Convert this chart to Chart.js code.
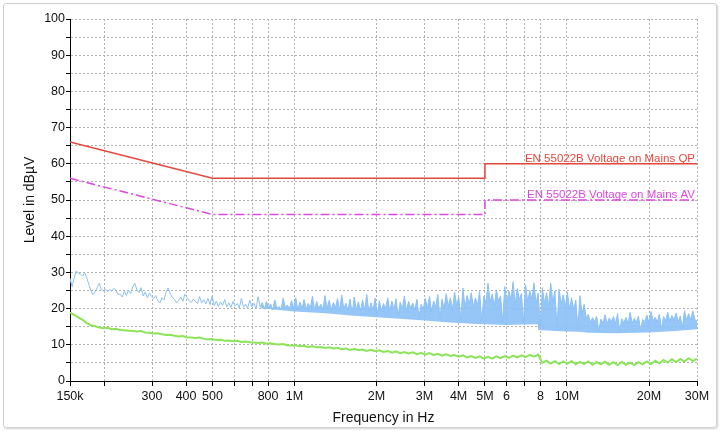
<!DOCTYPE html>
<html>
<head>
<meta charset="utf-8">
<script src="https://cdn.jsdelivr.net/npm/chart.js@4.4.1/dist/chart.umd.min.js"></script>
<style>
  html, body { margin: 0; padding: 0; background: #fff; }
  #wrap { position: relative; width: 724px; height: 431px; }
  #frame {
    position: absolute; left: 3px; top: 3px; width: 712px; height: 423px;
    border: 1px solid #d0d0d0; border-radius: 3px;
    box-shadow: 1px 1px 2px rgba(0,0,0,0.18);
  }
  #emc { position: absolute; left: 0; top: 0; }
</style>
</head>
<body>
<div id="wrap">
  <div id="frame"></div>
  <canvas id="emc" width="724" height="431"></canvas>
</div>
<script>
// limit lines (frequency in MHz, level in dBµV)
const limitFreqs = [0.15, 0.5, 5, 5, 30];
const qpLimit = [66, 56, 56, 60, 60];
const avLimit = [56, 46, 46, 50, 50];
const qpName = 'EN 55022B Voltage on Mains QP';
const avName = 'EN 55022B Voltage on Mains AV';

// receiver sweep, 150 kHz .. 30 MHz, log stepped
const sweepStart = 0.15;
const sweepStop = 30;

// peak trace (blue)
const peakLevels = [
  28.4, 26.0, 28.5, 30.4, 29.8, 29.5, 29.0, 29.9, 28.5, 26.7,
  25.0, 23.8, 24.6, 25.8, 27.0, 25.2, 24.9, 25.4, 24.7, 25.3,
  24.8, 25.6, 25.0, 23.9, 24.0, 23.2, 24.8, 23.6, 25.1, 24.2,
  26.0, 27.0, 25.2, 24.4, 25.8, 23.5, 24.6, 23.0, 24.3, 23.4,
  22.8, 23.6, 22.2, 21.5, 23.0, 22.4, 24.6, 25.7, 24.0, 23.1,
  22.5, 21.6, 22.3, 23.2, 22.0, 24.0, 23.1, 22.2, 21.7, 22.6,
  22.0, 21.4, 23.3, 21.6, 22.5, 21.3, 22.8, 21.1, 23.4, 20.8,
  22.1, 20.6, 21.8, 20.9, 22.5, 20.5, 21.6, 20.3, 22.0, 20.7,
  21.4, 20.2, 22.8, 20.4, 21.2, 20.1, 22.3, 20.5, 21.5, 19.9,
  23.3, 20.4, 21.7, 19.8, 22.0, 20.2, 21.3, 19.7, 22.4, 20.0,
  20.6, 19.8, 22.9, 20.3, 21.0, 19.9, 22.2, 20.1, 23.0, 19.6,
  21.8, 20.0, 22.5, 19.9, 21.4, 20.2, 23.4, 19.5, 22.0, 20.1,
  21.2, 19.8, 23.6, 20.0, 22.3, 19.6, 21.7, 20.2, 22.8, 19.4,
  23.8, 19.9, 21.5, 19.5, 22.6, 18.6, 23.2, 19.7, 21.9, 19.3,
  22.4, 19.6, 23.9, 19.1, 21.6, 19.5, 22.9, 18.2, 22.2, 19.4,
  21.4, 20.0, 23.0, 19.3, 22.1, 19.8, 22.7, 18.0, 21.8, 19.9,
  23.5, 19.4, 22.0, 20.2, 21.5, 19.6, 22.6, 17.6, 21.2, 19.8,
  22.8, 20.1, 23.4, 19.2, 22.1, 20.4, 23.9, 17.2, 22.6, 20.0,
  24.1, 20.6, 23.0, 19.7, 24.6, 20.9, 23.2, 16.8, 25.7, 20.3,
  23.6, 21.2, 24.4, 20.5, 22.9, 21.0, 24.8, 16.4, 23.4, 21.5,
  27.0, 21.8, 24.0, 20.7, 25.2, 22.0, 23.5, 16.2, 26.1, 21.6,
  24.9, 22.3, 27.4, 21.2, 25.5, 22.5, 24.2, 16.0, 26.6, 21.9,
  25.0, 22.6, 27.1, 21.4, 24.3, 14.8, 25.8, 21.5, 24.4, 20.9,
  27.0, 21.8, 24.9, 14.5, 25.4, 21.2, 23.8, 20.4, 24.6, 19.8,
  23.0, 19.6, 22.4, 14.4, 23.6, 18.6, 21.2, 17.4, 18.4, 16.2,
  17.5, 16.4, 17.9, 13.8, 17.1, 16.0, 18.3, 15.8, 17.4, 16.3,
  17.8, 15.9, 18.6, 13.7, 17.2, 16.1, 17.6, 15.7, 19.0, 16.0,
  17.3, 16.2, 17.9, 13.9, 17.0, 16.4, 18.2, 16.1, 19.2, 16.6,
  17.6, 16.3, 18.5, 14.2, 17.8, 16.7, 19.0, 16.4, 18.1, 16.9,
  18.7, 16.5, 17.9, 14.6, 19.4, 16.8, 18.6, 16.9, 19.3, 17.0,
  16.5
];

// lower edge of the dense peak band (blue)
const floorFreqs = [0.75, 1, 1.3, 1.6, 2, 2.5, 3, 3.5, 4, 4.5, 5, 6, 7, 7.8, 7.85, 9, 10, 11, 12, 15, 20, 25, 30];
const floorLevels = [20.1, 19.2, 18.7, 18.1, 17.6, 17.1, 16.7, 16.3, 16.0, 15.8, 15.7, 15.5, 15.6, 15.7, 14.1, 13.8, 13.7, 13.6, 13.3, 13.2, 13.4, 13.8, 14.3];

// average trace (green)
const avgLevels = [
  18.9, 18.3, 17.6, 16.9, 16.0, 15.4, 15.1, 14.8, 14.6, 14.7,
  14.3, 14.4, 14.1, 14.0, 13.9, 13.8, 13.7, 13.8, 13.4, 13.3,
  13.1, 13.2, 12.9, 12.7, 12.8, 12.5, 12.3, 12.4, 12.1, 12.0,
  11.9, 12.0, 11.7, 11.5, 11.6, 11.3, 11.4, 11.1, 11.2, 11.0,
  11.1, 10.8, 10.9, 10.7, 10.6, 10.5, 10.6, 10.3, 10.4, 10.2,
  10.1, 10.2, 9.9, 9.8, 9.9, 9.6, 9.7, 9.4, 9.6, 9.3,
  9.4, 9.1, 9.3, 9.0, 9.2, 8.8, 9.0, 8.6, 8.9, 8.5,
  8.7, 8.3, 8.6, 8.2, 8.5, 8.0, 8.3, 7.8, 8.2, 7.7,
  8.0, 7.6, 7.9, 7.4, 7.8, 7.3, 7.7, 7.2, 7.5, 7.0,
  7.4, 6.9, 7.2, 6.7, 7.1, 6.5, 6.9, 6.4, 6.8, 6.2,
  6.7, 6.2, 6.8, 6.3, 6.9, 6.4, 7.0, 6.5, 7.1, 6.6,
  7.2, 6.7, 7.3, 5.0, 5.6, 4.8, 5.5, 4.7, 5.4, 4.8,
  5.5, 4.6, 5.3, 4.7, 5.4, 4.5, 5.2, 4.6, 5.3, 4.5,
  5.2, 4.4, 5.3, 4.5, 5.1, 4.4, 5.2, 4.6, 5.4, 4.7,
  5.6, 4.9, 5.8, 5.1, 6.0, 5.2, 6.1, 5.4, 6.3, 5.5,
  6.2
];

// x axis ticks (MHz) and their labels
const xTicks = [0.15, 0.2, 0.3, 0.4, 0.5, 0.6, 0.7, 0.8, 1, 2, 3, 4, 5, 6, 7, 8, 10, 20, 30];
const xLabels = ['150k', '', '300', '400', '500', '', '', '800', '1M', '2M', '3M', '4M', '5M', '6', '', '8', '10M', '20M', '30M'];

// put each level on the sweep grid
function onSweep(levels) {
  const n = levels.length - 1;
  return levels.map((v, i) => ({
    x: sweepStart * Math.pow(sweepStop / sweepStart, i / n),
    y: v
  }));
}
function pairs(fs, vs) {
  return fs.map((f, i) => ({ x: f, y: vs[i] }));
}

const qpColor = '#e2473d';
const avColor = '#df48df';
const peakColor = 'rgb(138,192,246)';
const peakFill = 'rgba(138,192,246,0.9)';

// limit names written above the right end of each limit line
const limitLabels = {
  id: 'limitLabels',
  afterDatasetsDraw(chart) {
    const ctx = chart.ctx;
    const y = chart.scales.y;
    const right = chart.chartArea.right - 2;
    ctx.save();
    ctx.font = '11.5px "Liberation Sans", Arial, sans-serif';
    ctx.textAlign = 'right';
    ctx.textBaseline = 'alphabetic';
    ctx.fillStyle = qpColor;
    ctx.fillText(qpName, right, y.getPixelForValue(qpLimit[qpLimit.length - 1]) - 2);
    ctx.fillStyle = avColor;
    ctx.fillText(avName, right, y.getPixelForValue(avLimit[avLimit.length - 1]) - 2);
    ctx.restore();
  }
};

const font = { family: '"Liberation Sans", Arial, sans-serif', size: 12.5 };

new Chart(document.getElementById('emc').getContext('2d'), {
  type: 'line',
  data: {
    datasets: [
      {
        label: 'Peak',
        data: onSweep(peakLevels),
        borderColor: peakColor,
        backgroundColor: peakFill,
        fill: { target: 4, above: peakFill, below: peakFill },
        borderWidth: 1,
        pointRadius: 0,
        tension: 0
      },
      {
        label: 'Average',
        data: onSweep(avgLevels),
        borderColor: 'rgb(140,228,88)',
        borderWidth: 2,
        pointRadius: 0,
        tension: 0
      },
      {
        label: qpName,
        data: pairs(limitFreqs, qpLimit),
        borderColor: qpColor,
        borderWidth: 1.5,
        pointRadius: 0,
        tension: 0
      },
      {
        label: avName,
        data: pairs(limitFreqs, avLimit),
        borderColor: avColor,
        borderWidth: 1.5,
        borderDash: [9, 3, 2, 3],
        pointRadius: 0,
        tension: 0
      },
      {
        label: 'Peak floor',
        data: pairs(floorFreqs, floorLevels),
        borderColor: 'rgba(0,0,0,0)',
        borderWidth: 0,
        pointRadius: 0,
        tension: 0
      }
    ]
  },
  options: {
    responsive: false,
    animation: false,
    devicePixelRatio: 1,
    layout: { padding: { top: 19, right: 27, left: 0, bottom: 0 } },
    plugins: {
      legend: { display: false },
      tooltip: { enabled: false }
    },
    scales: {
      x: {
        type: 'logarithmic',
        min: 0.15,
        max: 30,
        afterBuildTicks: (axis) => { axis.ticks = xTicks.map(v => ({ value: v })); },
        afterFit: (axis) => { axis.height = 50; },
        ticks: {
          autoSkip: false,
          maxRotation: 0,
          padding: 3,
          color: '#111',
          font: font,
          callback: (v) => {
            const k = xTicks.findIndex(t => Math.abs(t - v) < 1e-9);
            return k >= 0 ? xLabels[k] : '';
          }
        },
        grid: { color: '#b0b0b0', tickColor: '#000', tickLength: 5, lineWidth: 1 },
        border: { color: '#000', width: 1, dash: [2, 2] },
        title: {
          display: true,
          text: 'Frequency in Hz',
          color: '#111',
          font: { family: font.family, size: 14 },
          padding: { top: 0, bottom: 4 }
        }
      },
      y: {
        min: 0,
        max: 100,
        afterFit: (axis) => { axis.width = 70; },
        ticks: {
          stepSize: 5,
          padding: 1,
          color: '#111',
          font: font,
          callback: (v) => (v % 10 === 0 ? String(v) : '')
        },
        grid: { color: '#b0b0b0', tickColor: '#000', tickLength: 4, lineWidth: 1 },
        border: { color: '#000', width: 1, dash: [2, 2] },
        title: {
          display: true,
          text: 'Level in dBµV',
          color: '#111',
          font: { family: font.family, size: 14 },
          padding: { top: 22, bottom: 0 }
        }
      }
    }
  },
  plugins: [limitLabels]
});
</script>
</body>
</html>
